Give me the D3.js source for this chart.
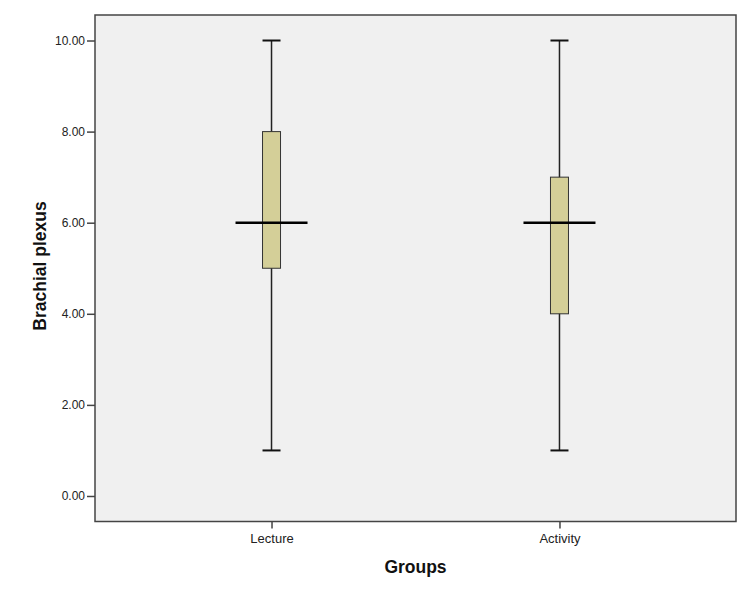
<!DOCTYPE html>
<html>
<head>
<meta charset="utf-8">
<script src="https://cdn.jsdelivr.net/npm/d3@7"></script>
<style>
  body { margin: 0; background: #fff; }
  text { font-family: Arial, "Liberation Sans", sans-serif; }
</style>
</head>
<body>
<div id="chart"></div>
<script>
// box plot summaries
const groups = ["Lecture", "Activity"]
const minimums = [1, 1]
const lowerQuartiles = [5, 4]
const medians = [6, 6]
const upperQuartiles = [8, 7]
const maximums = [10, 10]
const yTicks = [0, 2, 4, 6, 8, 10]

const width = 750, height = 600
const margin = { top: 15, right: 14, bottom: 78.5, left: 95 }

const svg = d3.select("#chart").append("svg")
    .attr("width", width)
    .attr("height", height)

const x = d3.scalePoint()
    .domain(groups)
    .range([margin.left, width - margin.right])
    .padding(0.613)

const y = d3.scaleLinear()
    .domain([-0.56, 10.56])
    .range([height - margin.bottom, margin.top])

// plot background
svg.append("rect")
    .attr("x", margin.left)
    .attr("y", margin.top)
    .attr("width", width - margin.left - margin.right)
    .attr("height", height - margin.top - margin.bottom)
    .attr("fill", "#f0f0f0")

const data = groups.map((g, i) => ({
    group: g,
    min: minimums[i],
    q1: lowerQuartiles[i],
    median: medians[i],
    q3: upperQuartiles[i],
    max: maximums[i]
}))

const boxWidth = 18
const capWidth = 18
const medianWidth = 72

const box = svg.append("g")
    .selectAll("g")
    .data(data)
    .join("g")

// whiskers
box.append("line")
    .attr("x1", d => x(d.group))
    .attr("x2", d => x(d.group))
    .attr("y1", d => y(d.max))
    .attr("y2", d => y(d.min))
    .attr("stroke", "#222")
    .attr("stroke-width", 1.5)

box.selectAll(".cap")
    .data(d => [d.min, d.max].map(v => ({ group: d.group, v })))
    .join("line")
    .attr("class", "cap")
    .attr("x1", d => x(d.group) - capWidth / 2)
    .attr("x2", d => x(d.group) + capWidth / 2)
    .attr("y1", d => y(d.v))
    .attr("y2", d => y(d.v))
    .attr("stroke", "#111")
    .attr("stroke-width", 2)

box.append("rect")
    .attr("x", d => x(d.group) - boxWidth / 2)
    .attr("y", d => y(d.q3))
    .attr("width", boxWidth)
    .attr("height", d => y(d.q1) - y(d.q3))
    .attr("fill", "#d4cf98")
    .attr("stroke", "#333")
    .attr("stroke-width", 1)

box.append("line")
    .attr("x1", d => x(d.group) - medianWidth / 2)
    .attr("x2", d => x(d.group) + medianWidth / 2)
    .attr("y1", d => y(d.median))
    .attr("y2", d => y(d.median))
    .attr("stroke", "#000")
    .attr("stroke-width", 2.5)

// frame
svg.append("rect")
    .attr("x", margin.left)
    .attr("y", margin.top)
    .attr("width", width - margin.left - margin.right)
    .attr("height", height - margin.top - margin.bottom)
    .attr("fill", "none")
    .attr("stroke", "#444")
    .attr("stroke-width", 1.5)

// axes
const yAxis = svg.append("g")
    .attr("transform", `translate(${margin.left},0)`)
    .call(d3.axisLeft(y).tickValues(yTicks).tickFormat(d3.format(".2f")).tickSize(8).tickPadding(2))
yAxis.select(".domain").remove()
yAxis.selectAll(".tick line").attr("stroke", "#444").attr("stroke-width", 1.5)
yAxis.selectAll(".tick text")
    .attr("font-size", 12)
    .attr("fill", "#222")
    .attr("font-family", "Arial, 'Liberation Sans', sans-serif")

const xAxis = svg.append("g")
    .attr("transform", `translate(0,${height - margin.bottom})`)
    .call(d3.axisBottom(x).tickSize(7).tickPadding(5))
xAxis.select(".domain").remove()
xAxis.selectAll(".tick line").attr("stroke", "#444").attr("stroke-width", 1.5)
xAxis.selectAll(".tick text")
    .attr("font-size", 13)
    .attr("fill", "#222")
    .attr("font-family", "Arial, 'Liberation Sans', sans-serif")

// axis titles
svg.append("text")
    .attr("x", (margin.left + width - margin.right) / 2)
    .attr("y", 573)
    .attr("text-anchor", "middle")
    .attr("font-size", 17.5)
    .attr("font-weight", "bold")
    .attr("fill", "#111")
    .text("Groups")

svg.append("text")
    .attr("transform", "translate(46,266) rotate(-90)")
    .attr("text-anchor", "middle")
    .attr("font-size", 17.5)
    .attr("font-weight", "bold")
    .attr("fill", "#111")
    .text("Brachial plexus")
</script>
</body>
</html>
